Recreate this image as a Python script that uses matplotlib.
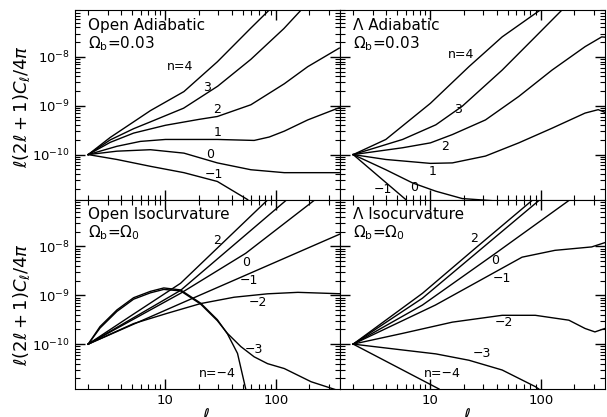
import numpy as np
import matplotlib.pyplot as plt
from matplotlib.ticker import FormatStrFormatter, NullFormatter

# values: ell and log10 of l(2l+1)C_l/4pi

# --- Open Adiabatic, Omega_b = 0.03
oa_ell = {
    4: [2, 3.16, 5.15, 7.31, 14.7, 29.5, 59.3, 86.9, 126],
    3: [2, 3.16, 5.15, 7.31, 14.6, 29.7, 59.3, 118, 169, 220],
    2: [2, 3.16, 5.15, 10, 20, 29.5, 59.3, 119, 194, 374],
    1: [2, 3.64, 5.93, 10, 29.5, 63.5, 87, 119, 194, 374],
    0: [2, 3.64, 7.31, 14.7, 29.5, 59.3, 119, 374],
    -1: [2, 3.64, 7.31, 14.7, 29.5, 55.3, 61.7],
}
oa_logc = {
    4: [-10, -9.65, -9.33, -9.10, -8.71, -8.10, -7.41, -7.04, -6.7],
    3: [-10, -9.70, -9.47, -9.33, -9.05, -8.60, -8.05, -7.42, -7.04, -6.8],
    2: [-10, -9.75, -9.56, -9.40, -9.28, -9.22, -8.98, -8.55, -8.2, -7.82],
    1: [-10, -9.83, -9.73, -9.69, -9.69, -9.71, -9.64, -9.52, -9.29, -9.04],
    0: [-10, -9.93, -9.90, -9.97, -10.17, -10.31, -10.37, -10.37],
    -1: [-10, -10.10, -10.24, -10.37, -10.55, -10.92, -11.04],
}
oa_labels = [("n=4", 13.7, -8.20), ("3", 23.9, -8.62), ("2", 29.5, -9.08),
             ("1", 29.5, -9.55), ("0", 25.6, -10.0), ("\u22121", 27.5, -10.41)]

# --- Lambda Adiabatic, Omega_b = 0.03
la_ell = {
    4: [2, 3.95, 10, 22.3, 44.6, 98.6, 130],
    3: [2, 5.6, 11.2, 19.4, 44.6, 88.9, 155, 200],
    2: [2, 5.6, 10, 15.8, 31.5, 63, 126, 251, 355, 394],
    1: [2, 3.95, 10, 15.8, 31.5, 63, 126, 251, 330, 394],
    0: [2, 3.95, 6.89, 11.2, 19.4, 40, 100],
    -1: [2, 5.98, 6.43],
}
la_logc = {
    4: [-10, -9.69, -8.95, -8.20, -7.59, -7.04, -6.8],
    3: [-10, -9.69, -9.39, -9.01, -8.27, -7.59, -7.04, -6.8],
    2: [-10, -9.86, -9.76, -9.59, -9.29, -8.81, -8.27, -7.79, -7.59, -7.6],
    1: [-10, -10.10, -10.18, -10.17, -10.03, -9.76, -9.46, -9.15, -9.08, -9.15],
    0: [-10, -10.31, -10.58, -10.75, -10.90, -10.95, -10.97],
    -1: [-10, -10.92, -11.06],
}
la_labels = [("n=4", 18.8, -7.96), ("3", 17.9, -9.08), ("2", 13.7, -9.83),
             ("1", 10.4, -10.34), ("0", 7.13, -10.68), ("\u22121", 3.7, -10.71)]

# --- Open Isocurvature, Omega_b = Omega_0
oi_ell = {
    2: [2, 4.8, 13.7, 83, 100],
    1: [2, 13.7, 123, 150],
    0: [2, 13.7, 53.3, 221, 300],
    -1: [2, 13.7, 390],
    -2: [2, 5.15, 10.35, 20.8, 41.8, 84, 158, 398],
    -3: [2, 2.56, 3.64, 5.15, 7.31, 9.66, 13.7, 20.8, 29.5, 36.4,
         48.1, 63.5, 84, 119, 208, 390],
    -4: [2, 2.56, 3.64, 5.15, 7.31, 9.66, 13.7, 20.8, 29.5, 36.4,
         44.9, 53.3, 56.9],
}
oi_logc = {
    2: [-10, -9.43, -8.755, -7.06, -6.8],
    1: [-10, -8.90, -7.06, -6.85],
    0: [-10, -8.96, -8.14, -7.06, -6.8],
    -1: [-10, -9.17, -7.735],
    -2: [-10, -9.58, -9.37, -9.17, -9.04, -8.97, -8.94, -8.97],
    -3: [-10, -9.67, -9.33, -9.08, -8.95, -8.88, -8.91, -9.18, -9.52, -9.78,
         -10.05, -10.26, -10.40, -10.50, -10.77, -10.97],
    -4: [-10, -9.64, -9.30, -9.05, -8.92, -8.85, -8.89, -9.16, -9.50, -9.79,
         -10.19, -10.92, -11.14],
}
oi_labels = [("2", 29.5, -7.88), ("0", 53.3, -8.32), ("\u22121", 57.1, -8.69),
             ("\u22122", 68.1, -9.14), ("\u22123", 63.5, -10.12), ("n=\u22124", 29.5, -10.6)]

# --- Lambda Isocurvature, Omega_b = Omega_0
li_ell = {
    2: [2, 8.47, 25.1, 83, 100],
    1: [2, 8.47, 95.9, 115],
    0: [2, 8.47, 37.8, 179, 220],
    -1: [2, 11.1, 67.5, 134, 288, 394],
    -2: [2, 5.6, 15.8, 44.6, 88.9, 179, 251, 308, 379],
    -3: [2, 5.6, 11.2, 22.3, 44.6, 88.9, 100],
    -4: [2, 12, 14],
}
li_logc = {
    2: [-10, -8.96, -8.05, -7.06, -6.85],
    1: [-10, -9.06, -7.06, -6.9],
    0: [-10, -9.20, -8.16, -7.06, -6.95],
    -1: [-10, -9.20, -8.22, -8.08, -8.01, -7.91],
    -2: [-10, -9.78, -9.55, -9.41, -9.41, -9.51, -9.68, -9.75, -9.68],
    -3: [-10, -10.12, -10.20, -10.33, -10.53, -10.87, -10.95],
    -4: [-10, -10.92, -11.1],
}
li_labels = [("2", 24.8, -7.84), ("0", 38.7, -8.29), ("\u22121", 44.6, -8.66),
             ("\u22122", 46.1, -9.55), ("\u22123", 29.4, -10.2), ("n=\u22124", 12.8, -10.6)]

titles = ["Open Adiabatic", "\u039b Adiabatic", "Open Isocurvature", "\u039b Isocurvature"]
subtitles = [r"$\Omega_{\rm b}$=0.03", r"$\Omega_{\rm b}$=0.03",
             r"$\Omega_{\rm b}$=$\Omega_0$", r"$\Omega_{\rm b}$=$\Omega_0$"]

panels = [(oa_ell, oa_logc, oa_labels), (la_ell, la_logc, la_labels),
          (oi_ell, oi_logc, oi_labels), (li_ell, li_logc, li_labels)]

fig, axes = plt.subplots(2, 2, figsize=(6.07, 4.17), dpi=100, sharex=True, sharey=True)
fig.subplots_adjust(left=0.1236, right=0.9967, top=0.976, bottom=0.067,
                    wspace=0, hspace=0)

for ax, (ells, logcs, labels), title, sub in zip(axes.flat, panels, titles, subtitles):
    for n in ells:
        ax.plot(ells[n], 10 ** np.array(logcs[n]), color='k', lw=1.0)
    for txt, l, lc in labels:
        ax.text(l, 10 ** lc, txt, fontsize=9, ha='center', va='center')
    ax.text(0.05, 0.92, title, transform=ax.transAxes, fontsize=11, va='center')
    ax.text(0.05, 0.825, sub, transform=ax.transAxes, fontsize=11, va='center')
    ax.set_xscale('log')
    ax.set_yscale('log')
    ax.set_xlim(1.52, 380)
    ax.set_ylim(10 ** -10.92, 10 ** -7.04)
    ax.tick_params(which='both', direction='in', top=True, right=True, labelsize=9.5)
    ax.tick_params(which='major', length=7, width=1)
    ax.tick_params(which='minor', length=3.5, width=0.8)
    ax.xaxis.set_major_formatter(FormatStrFormatter('%d'))
    ax.xaxis.set_minor_formatter(NullFormatter())

ylab = r"$\ell(2\ell+1)C_\ell/4\pi$"
fig.text(0.035, 0.744, ylab, rotation=90, fontsize=13, ha='center', va='center')
fig.text(0.035, 0.27, ylab, rotation=90, fontsize=13, ha='center', va='center')
fig.text(0.34, 0.024, r"$\ell$", fontsize=12, ha='center', va='top')
fig.text(0.77, 0.024, r"$\ell$", fontsize=12, ha='center', va='top')

plt.savefig("out.png", dpi=100)
